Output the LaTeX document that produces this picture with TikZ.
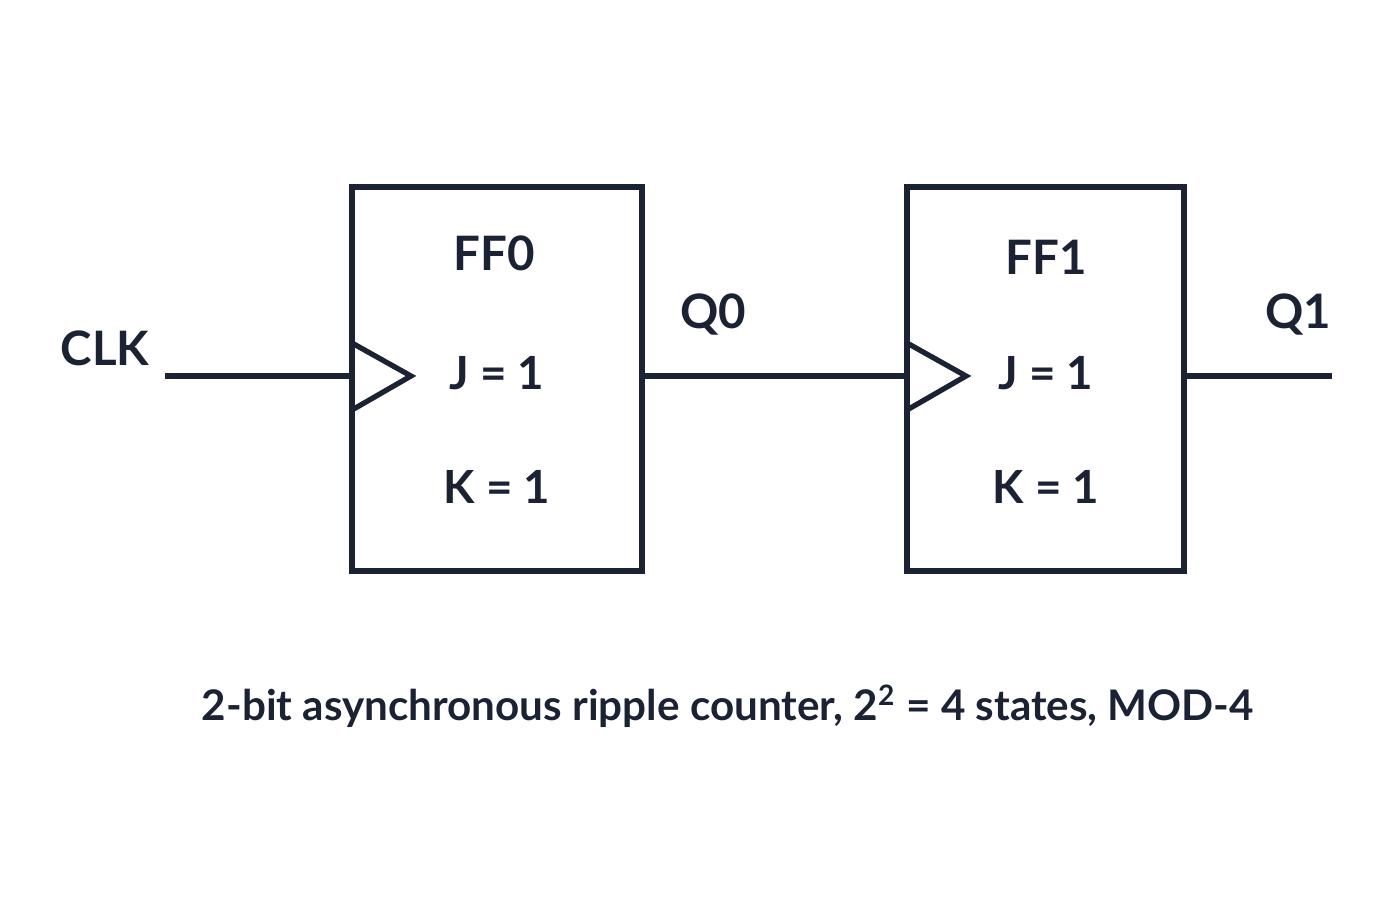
\documentclass[tikz,border=0pt]{standalone}
\usepackage{fontspec}
\setmainfont{Lato}
\usetikzlibrary{positioning}
\definecolor{ink}{HTML}{1A2233}
\tikzset{
	ff/.style={draw=ink, line width=1.5pt, minimum width=2.9cm, minimum height=3.84cm, inner sep=0pt},
	lbl/.style={text=ink, font=\bfseries\fontsize{13.5}{16}\selectfont},
	pin/.style={text=ink, font=\bfseries\fontsize{13}{15}\selectfont},
	wire/.style={draw=ink, line width=1.5pt}
}
\begin{document}
\begin{tikzpicture}
	\useasboundingbox (0,0) rectangle (14,9);
	% flip-flops
	\node[ff] (ff0) at (4.97,5.21) {};
	\node[ff, minimum width=2.77cm] (ff1) at (10.455,5.21) {};
	\node[lbl] (t0) at (4.94,6.47) {FF0};
	\node[lbl] (t1) at (10.46,6.43) {FF1};
	\node[pin] (j0) at (4.97,5.27) {J = 1};
	\node[pin] (k0) at (4.97,4.13) {K = 1};
	\node[pin] (j1) at (10.46,5.27) {J = 1};
	\node[pin] (k1) at (10.46,4.13) {K = 1};
	% signals
	\coordinate (clkin) at (1.65,5.24);
	\coordinate (q1out) at (13.32,5.24);
	\node[lbl] (clk) at (1.05,5.52) {CLK};
	\node[lbl] (q0) at (7.13,5.85) {Q0};
	\node[lbl] (q1) at (12.98,5.85) {Q1};
	\draw[wire] (clkin) -- (clkin -| ff0.west);
	\draw[wire] (ff0.east |- clkin) -- (ff1.west |- clkin);
	\draw[wire] (ff1.east |- clkin) -- (q1out);
	% clock triangles
	\draw[wire, line join=miter] (3.52,5.57) -- (4.11,5.24) -- (3.52,4.90);
	\draw[wire, line join=miter] (9.07,5.57) -- (9.66,5.24) -- (9.07,4.90);
	\node[text=ink, font=\bfseries\fontsize{12}{14}\selectfont] (cap) at (7.28,1.94)
		{2-bit asynchronous ripple counter, 2\textsuperscript{2} = 4 states, MOD-4};
\end{tikzpicture}
\end{document}
